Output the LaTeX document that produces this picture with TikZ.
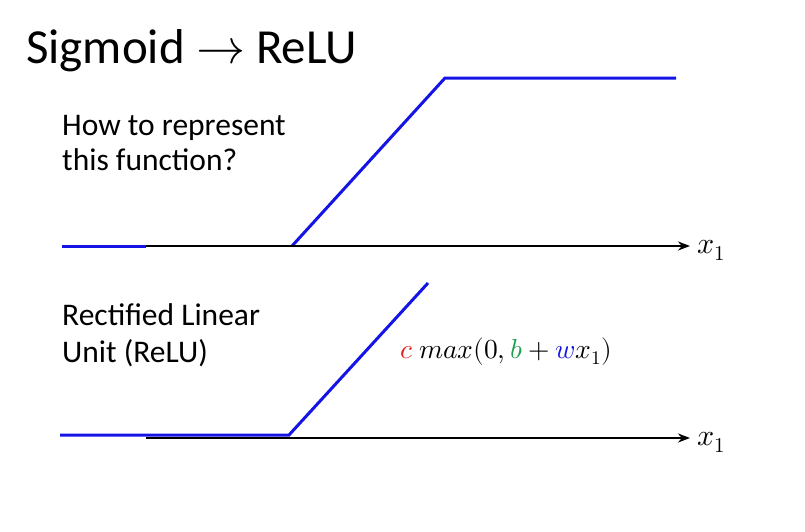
\documentclass[tikz,border=0pt]{standalone}
\usepackage{fontspec}
\usepackage{unicode-math}
\setmainfont{Carlito}
\setmathfont{Latin Modern Math}
\usetikzlibrary{arrows.meta}
\definecolor{fblue}{RGB}{20,20,230}
\definecolor{fred}{RGB}{230,30,30}
\definecolor{fgreen}{RGB}{30,160,80}
\tikzset{
  curve/.style={fblue,line width=3pt},
  axis/.style={black,line width=2.4pt,-{Stealth[length=12pt,width=9pt]}},
  lbl/.style={anchor=base west,inner sep=0pt,font=\fontsize{31.5}{36}\selectfont},
  mlbl/.style={anchor=base west,inner sep=0pt,font=\fontsize{30}{34}\selectfont},
}
\begin{document}
\begin{tikzpicture}[x=1pt,y=-1pt]
\useasboundingbox (0,0) rectangle (805,531);
\node[anchor=base west,inner sep=0pt,font=\fontsize{49}{56}\selectfont] (title) at (26,63) {Sigmoid $\rightarrow$ ReLU};
\node[lbl] (t1) at (62,135) {How to represent};
\node[lbl] (t2) at (62,170) {this function?};
\node[lbl] (t3) at (62,325) {Rectified Linear};
\node[lbl] (t4) at (62,362) {Unit (ReLU)};
% top
\coordinate (a0) at (62,246);
\coordinate (a1) at (146,246);
\coordinate (a2) at (292,246);
\coordinate (a3) at (445,78);
\coordinate (a4) at (676,78);
\coordinate (ae) at (690,246);
\draw[curve] (a0) -- (a1);
\draw[curve] (a2) -- (a3) -- (a4);
\draw[axis] (a1) -- (ae);
\node[mlbl] (x1a) at (697,253) {$x_1$};
% bottom
\coordinate (b0) at (60,435);
\coordinate (b1) at (289,435);
\coordinate (b2) at (428,283);
\coordinate (bs) at (146,438);
\coordinate (be) at (690,438);
\draw[axis] (bs) -- (be);
\draw[curve] (b0) -- (b1) -- (b2);
\node[mlbl] (x1b) at (697,445) {$x_1$};
\node[mlbl,font=\fontsize{27.5}{32}\selectfont] (f) at (400,358)
  {$\textcolor{fred}{c}\ max(0,\textcolor{fgreen}{b}+\textcolor{fblue}{w}x_1)$};
\end{tikzpicture}
\end{document}
